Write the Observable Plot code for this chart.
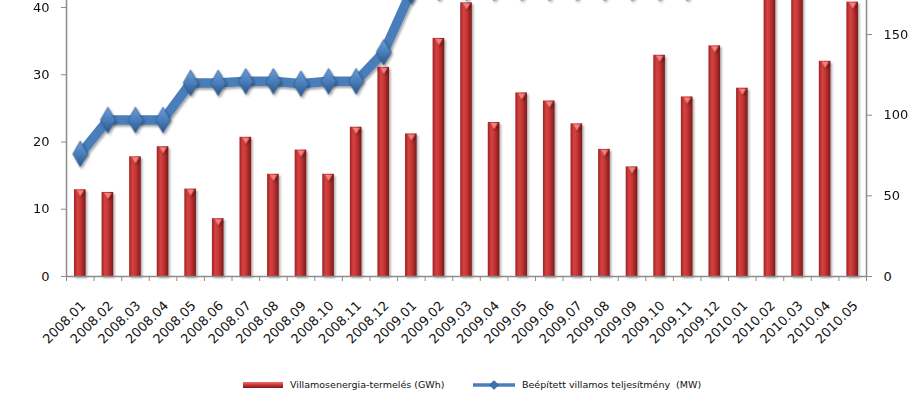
<!DOCTYPE html>
<html>
<head>
<meta charset="utf-8">
<script src="https://cdn.jsdelivr.net/npm/d3@7"></script>
<script src="https://cdn.jsdelivr.net/npm/@observablehq/plot@0.6"></script>
<style>
  html, body { margin: 0; padding: 0; background: #fff; }
  #chart { width: 916px; }
  .legend { height: 50px; position: relative; font-family: "DejaVu Sans", sans-serif; font-size: 9.5px; color: #111; }
  .legend .item { position: absolute; top: 19px; display: flex; align-items: center; white-space: pre; }
  .legend svg { display: block; margin-right: 4px; }
</style>
</head>
<body>
<div id="chart"></div>
<script>
const months = ["2008.01","2008.02","2008.03","2008.04","2008.05","2008.06","2008.07","2008.08","2008.09","2008.10","2008.11","2008.12",
  "2009.01","2009.02","2009.03","2009.04","2009.05","2009.06","2009.07","2009.08","2009.09","2009.10","2009.11","2009.12",
  "2010.01","2010.02","2010.03","2010.04","2010.05"];
// Villamosenergia-termelés (GWh) – left axis
const production = [12.9,12.5,17.8,19.3,13.0,8.6,20.7,15.2,18.8,15.2,22.2,31.1,
  21.2,35.4,40.7,22.9,27.3,26.1,22.7,18.9,16.3,32.9,26.7,34.3,
  28.0,48,46,32.0,40.8];
// Beépített villamos teljesítmény (MW) – right axis
const capacity = [76,97,97,97,120,120,121,121,119.5,121,121,139,
  177,179,179,179,179,179,179,179,179,179,179,201,
  201,201,215,240,260];
const leftTicks = [0,10,20,30,40];
const rightTicks = [0,50,100,150];
const seriesNames = ["Villamosenergia-termelés (GWh)", "Beépített villamos teljesítmény  (MW)"];

const yMax = 41.04, rightMax = 171.1, k = yMax / rightMax;
const idx = months.map((_, i) => i);
const bars = idx.map(i => ({i, v: production[i]}));
const caps = idx.map(i => ({i, v: capacity[i] * k}));
const bounds = d3.range(months.length + 1).map(i => i - 0.5);

const plot = Plot.plot({
  width: 916, height: 360,
  marginLeft: 66, marginRight: 50, marginTop: 0, marginBottom: 84,
  style: {fontFamily: "DejaVu Sans, sans-serif", fontSize: "13px", color: "#111", overflow: "visible"},
  x: {type: "linear", domain: [-0.5, months.length - 0.5]},
  y: {domain: [0, yMax]},
  marks: [
    Plot.rectY(bars, {x1: d => d.i - 0.21, x2: d => d.i + 0.21, y1: 0, y2: "v", fill: "url(#barGrad)"}),
    Plot.dot(bars, {x: "i", y: "v", symbol: "triangle", rotate: 180, r: 2.6, dy: 2.5, fill: "#f28080", stroke: "none"}),
    Plot.line(caps, {x: "i", y: "v", stroke: "#4a7ebb", strokeWidth: 9.5, strokeLinejoin: "round", strokeLinecap: "round"}),
    Plot.dot(caps, {x: "i", y: "v", symbol: "diamond", r: 7.8, fill: "url(#dotGrad)", stroke: "#2d5a8e", strokeWidth: 0.8}),
    Plot.ruleY([0], {stroke: "#8c8c8c", strokeWidth: 1.5}),
    Plot.ruleX([-0.5, months.length - 0.5], {stroke: "#8c8c8c", strokeWidth: 1.5}),
    Plot.axisY({ticks: leftTicks, anchor: "left", tickSize: 5, tickPadding: 12, stroke: "#8c8c8c", label: null}),
    Plot.axisY({ticks: rightTicks.map(v => v * k), anchor: "right", tickSize: 5, tickPadding: 12, stroke: "#8c8c8c",
      tickFormat: v => String(Math.round(v / k)), label: null}),
    Plot.axisX({ticks: bounds, tickSize: 5, stroke: "#8c8c8c", tickFormat: () => "", label: null}),
    Plot.axisX({ticks: idx, tickSize: 0, tickPadding: 27, dx: 3, tickRotate: -45, tickFormat: i => months[i], label: null})
  ]
});

const svg = d3.select(plot);
svg.append("defs").html(`
  <linearGradient id="barGrad" x1="0" x2="1" y1="0" y2="0">
    <stop offset="0" stop-color="#9e2222"/>
    <stop offset="0.3" stop-color="#d54242"/>
    <stop offset="0.55" stop-color="#c73636"/>
    <stop offset="1" stop-color="#7e1a1a"/>
  </linearGradient>
  <linearGradient id="dotGrad" x1="0" x2="0" y1="0" y2="1">
    <stop offset="0" stop-color="#6d9edb"/>
    <stop offset="0.5" stop-color="#4a7ebb"/>
    <stop offset="1" stop-color="#2b5688"/>
  </linearGradient>
  <filter id="shadow" x="-50%" y="-50%" width="200%" height="200%">
    <feDropShadow dx="1.5" dy="2" stdDeviation="1.3" flood-color="#000" flood-opacity="0.35"/>
  </filter>`);
svg.selectAll('g[aria-label="rect"], g[aria-label="line"], g[aria-label="dot"]').attr("filter", "url(#shadow)");
document.getElementById("chart").appendChild(plot);

// legend
const legend = d3.select("#chart").append("div").attr("class", "legend");
const it1 = legend.append("div").attr("class", "item").style("left", "243px");
it1.append("svg").attr("width", 43).attr("height", 10).html(`
  <defs><linearGradient id="lg1" x1="0" x2="0" y1="0" y2="1"><stop offset="0" stop-color="#f07070"/><stop offset="0.5" stop-color="#c53434"/><stop offset="1" stop-color="#7e1a1a"/></linearGradient></defs>
  <rect x="0" y="2" width="40" height="6" fill="url(#lg1)"/>`);
it1.append("span").text(seriesNames[0]);
const it2 = legend.append("div").attr("class", "item").style("left", "473px");
it2.append("svg").attr("width", 45).attr("height", 10).html(`
  <line x1="0" x2="42" y1="5" y2="5" stroke="#4a7ebb" stroke-width="3.5"/>
  <path d="M21,0.5 L25.5,5 L21,9.5 L16.5,5Z" fill="#3f70aa" stroke="#2d5a8e" stroke-width="0.6"/>`);
it2.append("span").text(seriesNames[1]);
</script>
</body>
</html>
